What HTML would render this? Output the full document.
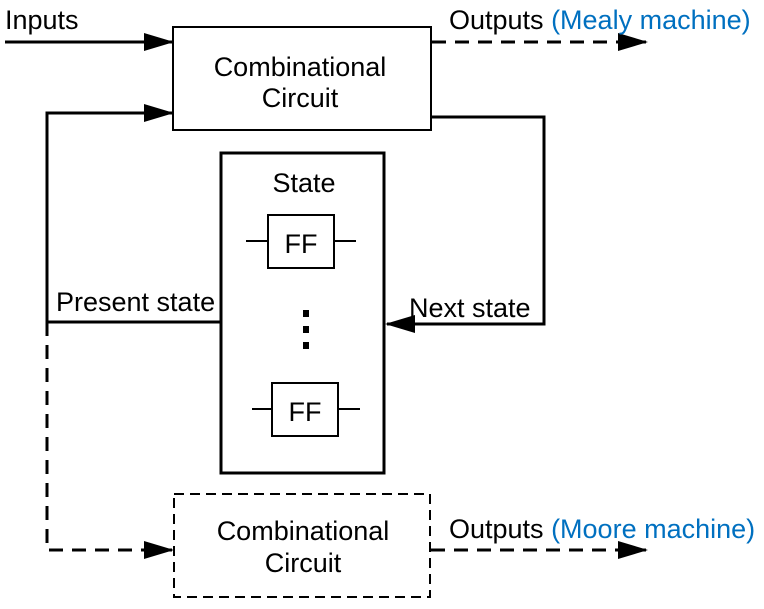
<!DOCTYPE html>
<html><head><meta charset="utf-8"><style>
html,body{margin:0;padding:0;background:#fff}
svg{display:block;font-family:"Liberation Sans",Arial,sans-serif}
</style></head><body>
<svg width="764" height="609" viewBox="0 0 764 609">
<defs>
<marker id="ahl" markerWidth="30" markerHeight="20" refX="28" refY="10" orient="auto" markerUnits="userSpaceOnUse" viewBox="0 0 30 20">
<path d="M0,1 L30,10 L0,19 z" fill="#000"/></marker>
</defs>
<g stroke="#000" stroke-width="3" fill="none">
<line x1="5" y1="42" x2="172" y2="42" marker-end="url(#ahl)"/>
<rect x="173" y="27" width="258" height="103" stroke-width="2"/>
<line x1="432" y1="42" x2="646" y2="42" stroke-dasharray="14,9" marker-end="url(#ahl)"/>
<polyline points="221,322 47,322 47,113 172,113" marker-end="url(#ahl)"/>
<polyline points="431,117 544,117 544,324 387,324" marker-end="url(#ahl)"/>
<rect x="221" y="153" width="163" height="320"/>
<rect x="268" y="215" width="66" height="53" stroke-width="2"/>
<line x1="246" y1="241" x2="268" y2="241" stroke-width="2"/>
<line x1="334" y1="241" x2="356" y2="241" stroke-width="2"/>
<rect x="272" y="383" width="66" height="53" stroke-width="2"/>
<line x1="252" y1="409" x2="272" y2="409" stroke-width="2"/>
<line x1="338" y1="409" x2="360" y2="409" stroke-width="2"/>
<polyline points="47,322 47,550 172,550" stroke-dasharray="14,9" marker-end="url(#ahl)"/>
<rect x="174" y="494" width="256" height="103" stroke-width="2" stroke-dasharray="10,6"/>
<line x1="431" y1="550" x2="646" y2="550" stroke-dasharray="14,9" marker-end="url(#ahl)"/>
</g>
<g fill="#000">
<rect x="303" y="310" width="6" height="7"/><rect x="303" y="326" width="6" height="7"/><rect x="303" y="342" width="6" height="7"/>
</g>
<g font-size="27" fill="#000">
<text x="5" y="29">Inputs</text>
<text x="449" y="29">Outputs <tspan fill="#0070C0">(Mealy machine)</tspan></text>
<text text-anchor="middle"><tspan x="300" y="76">Combinational</tspan><tspan x="300" y="107">Circuit</tspan></text>
<text x="304" y="192" text-anchor="middle">State</text>
<text x="301" y="253" text-anchor="middle">FF</text>
<text x="305" y="421" text-anchor="middle">FF</text>
<text x="56" y="311">Present state</text>
<text x="409" y="317">Next state</text>
<text text-anchor="middle"><tspan x="303" y="540">Combinational</tspan><tspan x="303" y="572">Circuit</tspan></text>
<text x="449" y="538">Outputs <tspan fill="#0070C0">(Moore machine)</tspan></text>
</g>
</svg>
</body></html>
